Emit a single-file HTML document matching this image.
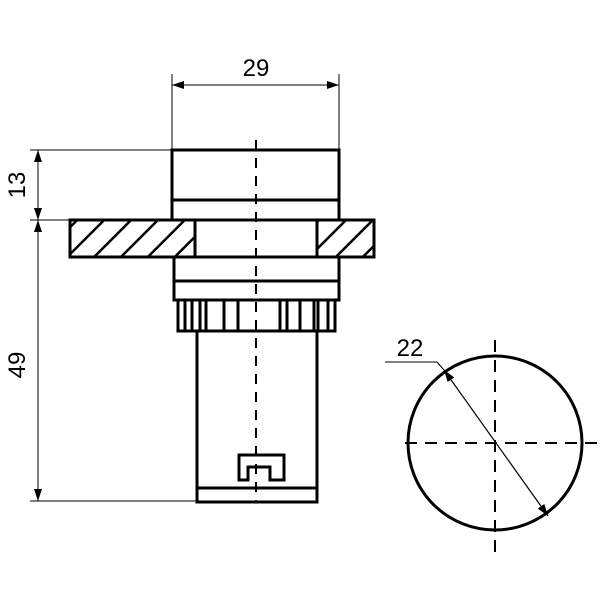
<!DOCTYPE html>
<html><head><style>body{margin:0;background:#fff}</style></head><body>
<svg width="600" height="600" viewBox="0 0 600 600" xmlns="http://www.w3.org/2000/svg" font-family="Liberation Sans, sans-serif">
<defs>
<pattern id="h" patternUnits="userSpaceOnUse" width="19" height="19" patternTransform="rotate(45)">
<line x1="0" y1="0" x2="0" y2="19" stroke="#000" stroke-width="5"/>
</pattern>
<marker id="a" markerWidth="12" markerHeight="8" refX="12" refY="4" orient="auto-start-reverse" markerUnits="userSpaceOnUse"><path d="M0,0 L12,4 L0,8 z" fill="#000"/></marker>
</defs>
<g stroke="#000" fill="none">
<line x1="172" y1="74" x2="172" y2="150" stroke-width="1"/>
<line x1="339" y1="74" x2="339" y2="150" stroke-width="1"/>
<line x1="172" y1="85" x2="339" y2="85" stroke-width="1" marker-start="url(#a)" marker-end="url(#a)"/>
<line x1="30" y1="150" x2="172" y2="150" stroke-width="1"/>
<line x1="30" y1="220" x2="70" y2="220" stroke-width="1"/>
<line x1="30" y1="501" x2="197" y2="501" stroke-width="1"/>
<line x1="38" y1="150" x2="38" y2="220" stroke-width="1" marker-start="url(#a)" marker-end="url(#a)"/>
<line x1="38" y1="220" x2="38" y2="501" stroke-width="1" marker-start="url(#a)" marker-end="url(#a)"/>
<rect x="172" y="150" width="167" height="70" stroke-width="3"/>
<line x1="172" y1="200" x2="339" y2="200" stroke-width="3"/>
<rect x="70" y="220" width="125" height="37" fill="url(#h)" stroke-width="3"/>
<rect x="317" y="220" width="57" height="37" fill="url(#h)" stroke-width="3"/>
<rect x="70" y="220" width="304" height="37" stroke-width="3"/>
<rect x="174" y="257" width="165" height="43" stroke-width="3"/>
<line x1="174" y1="281" x2="339" y2="281" stroke-width="3"/>
<rect x="178" y="300" width="157" height="31" stroke-width="3"/>
<g stroke-width="3">
<line x1="185" y1="300" x2="185" y2="331"/><line x1="192" y1="300" x2="192" y2="331"/>
<line x1="200" y1="300" x2="200" y2="331"/><line x1="206" y1="300" x2="206" y2="331"/>
<line x1="224" y1="300" x2="224" y2="331"/><line x1="238" y1="300" x2="238" y2="331"/>
<line x1="280" y1="300" x2="280" y2="331"/><line x1="287" y1="300" x2="287" y2="331"/>
<line x1="300" y1="300" x2="300" y2="331"/><line x1="314" y1="300" x2="314" y2="331"/>
<line x1="318" y1="300" x2="318" y2="331"/><line x1="328" y1="300" x2="328" y2="331"/>
</g>
<rect x="197" y="331" width="120" height="171" stroke-width="3"/>
<line x1="197" y1="488" x2="317" y2="488" stroke-width="3"/>
<path d="M239,480 L239,455 L284,455 L284,480 L270,480 L270,467 L248,467 L248,480 Z" stroke-width="3"/>
<line x1="256" y1="140" x2="256" y2="502" stroke-width="2" stroke-dasharray="10,8"/>
<circle cx="495" cy="443" r="87" stroke-width="3"/>
<line x1="405" y1="443" x2="600" y2="443" stroke-width="2" stroke-dasharray="12,8"/>
<line x1="495" y1="340" x2="495" y2="552" stroke-width="2" stroke-dasharray="12,8"/>
<line x1="444" y1="370" x2="548" y2="516" stroke-width="1.2" marker-start="url(#a)" marker-end="url(#a)"/>
<line x1="385" y1="362" x2="437" y2="362" stroke-width="1"/>
<line x1="437" y1="362" x2="444" y2="370" stroke-width="1"/>
</g>
<g font-size="24" fill="#000">
<text x="256" y="76" text-anchor="middle">29</text>
<text x="410" y="356" text-anchor="middle">22</text>
<text transform="translate(25,185) rotate(-90)" text-anchor="middle">13</text>
<text transform="translate(25,365) rotate(-90)" text-anchor="middle">49</text>
</g>
</svg>
</body></html>
